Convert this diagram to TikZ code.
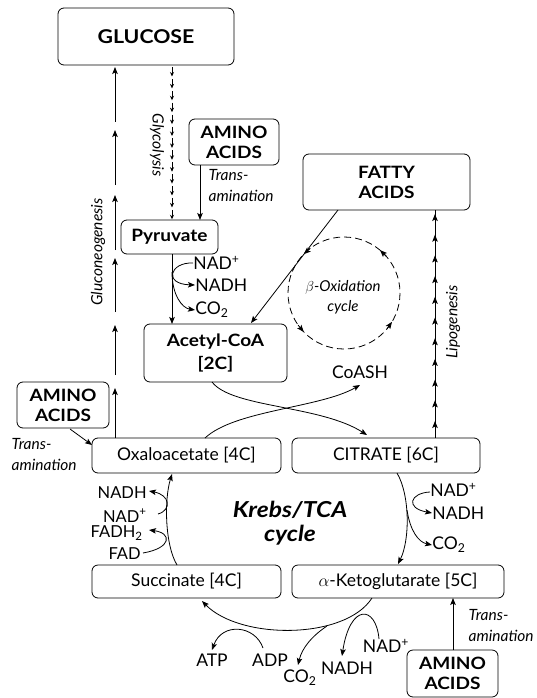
\documentclass[tikz,border=0pt]{standalone}
\usepackage{fontspec}
\setmainfont{Lato}
\newfontfamily\boxfont{Lato}[FakeStretch=1.12]
\usetikzlibrary{arrows.meta,calc}
\begin{document}
\begin{tikzpicture}[x=1pt,y=-1pt, line width=0.8pt,
  >={Stealth[length=7pt,width=5.5pt,inset=1.5pt]},
  box/.style={draw, rounded corners=6pt, inner sep=0pt, align=center},
  bigbold/.style={font=\fontsize{19}{22}\selectfont\boxfont\bfseries},
  boldlab/.style={font=\fontsize{17}{20}\selectfont\boxfont\bfseries},
  midlab/.style={font=\fontsize{17.5}{20}\selectfont},
  itlab/.style={font=\fontsize{15.5}{21}\selectfont\itshape},
  chem/.style={font=\fontsize{17.5}{20}\selectfont, inner sep=0pt},
  chemL/.style={font=\fontsize{16.5}{19}\selectfont, inner sep=0pt, anchor=base east},
  smallarr/.style={-{Stealth[length=4.5pt,width=4pt]}},
  liparr/.style={-{Stealth[length=7pt,width=5.5pt,inset=1.5pt]}},
]
\useasboundingbox (0,0) rectangle (536,698);

% boxes
\node[box, bigbold, minimum width=176pt, minimum height=57pt] (glucose) at (146,36.5) {GLUCOSE};
\node[box, boldlab, minimum width=90pt, minimum height=46pt] (aminoT) at (234,142) {AMINO\\ACIDS};
\node[box, boldlab, minimum width=97pt, minimum height=34pt] (pyr) at (169.5,237) {Pyruvate};
\node[box, boldlab, minimum width=167pt, minimum height=56pt] (fatty) at (386.5,182) {FATTY\\ACIDS};
\node[box, font=\fontsize{17}{23}\selectfont\boxfont\bfseries, minimum width=143pt, minimum height=58pt] (acetyl) at (215.5,353) {Acetyl-CoA\\{[2C]}};
\node[box, boldlab, minimum width=92pt, minimum height=46pt] (aminoL) at (63,405) {AMINO\\ACIDS};
\node[box, midlab, minimum width=189pt, minimum height=35pt] (oxalo) at (186.5,455.5) {Oxaloacetate [4C]};
\node[box, midlab, minimum width=188pt, minimum height=35pt] (citrate) at (386,455.5) {CITRATE [6C]};
\node[box, midlab, minimum width=189pt, minimum height=33pt] (succ) at (186.5,581.5) {Succinate [4C]};
\node[box, midlab, minimum width=212pt, minimum height=33pt] (akg) at (398,581.5) {$\alpha$-Ketoglutarate [5C]};
\node[box, boldlab, minimum width=91pt, minimum height=47pt] (aminoB) at (452.5,673.5) {AMINO\\ACIDS};

% gluconeogenesis
\foreach \a/\b in {438/388, 375/325, 312/258, 250/195, 185/130, 122/67}
  \draw[->] (115,\a) -- (115,\b);
\node[itlab, rotate=90] (glulab) at (98,252) {Gluconeogenesis};

% glycolysis
\foreach \i in {0,...,12}
  \draw[smallarr] (172,{67+\i*11.9}) -- (172,{67+\i*11.9+9.5});
\node[itlab, rotate=-90] (glylab) at (157,145) {Glycolysis};

% transamination top
\draw[->] (200,165) -- (200,220);
\node[itlab, align=left, anchor=west] (tT) at (205,186) {Trans-\\amination};

% pyruvate -> acetyl
\draw[->] (172,254) -- (172,324);
\node[chem, anchor=west] (nadT) at (193,263) {NAD\textsuperscript{+}};
\node[chem, anchor=west] (nadhT) at (195,285) {NADH};
\node[chem, anchor=west] (co2T) at (195,310) {CO\textsubscript{2}};
\draw[->] (nadT.west) .. controls (170,262) and (163,284) .. (nadhT.west);
\draw[->] (172,272) .. controls (172,295) and (182,308) .. (co2T.west);

% fatty -> acetyl
\draw[->] (338,210) -- (251,323);

% beta oxidation
\draw[dash pattern=on 7pt off 4pt] (344,293) circle[radius=56];
\foreach \a in {50,136,224,329}
  \draw[-{Stealth[length=7pt,width=5.5pt,inset=1.5pt]}] ({344+56*cos(\a-9)},{293-56*sin(\a-9)}) -- ({344+56*cos(\a)},{293-56*sin(\a)});
\node[align=center, font=\fontsize{15}{20}\selectfont\itshape] (beta) at (343,297) {$\beta$-Oxidation\\cycle};

% lipogenesis
\draw (435,438) -- (435,210);
\foreach \i in {0,...,10}
  \draw[liparr] (435,{214+\i*20.7+7}) -- (435,{214+\i*20.7});
\node[itlab, rotate=90] (liplab) at (453,322) {Lipogenesis};

% CoASH & crossing
\node[midlab] (coash) at (360,372) {CoASH};
\draw[->] (212,382) .. controls (232,408) and (320,405) .. (367,435);
\draw[->] (205,438) .. controls (235,410) and (320,408) .. (360,385);

% left amino
\draw[->] (70,429) -- (92,445);
\node[itlab, align=left, anchor=west] (tL) at (8,455) {Trans-\\amination};

% Krebs cycle
\node[font=\fontsize{22}{24}\selectfont\boxfont\bfseries\itshape, align=center] (krebs) at (290,523) {Krebs/TCA\\cycle};
\draw[->] (177,565) .. controls (165,545) and (164,500) .. (172,474);
\draw[->] (397,473) .. controls (410,495) and (410,540) .. (398,564);
\draw[->] (372,598) .. controls (345,640) and (240,640) .. (202,601);

% left side cofactors
\node[chemL] (nadhL) at (147,498) {NADH};
\node[chemL] (nadL) at (147,522) {NAD\textsuperscript{+}};
\node[chemL] (fadh) at (143,537.5) {FADH\textsubscript{2}};
\node[chemL] (fad) at (141,559) {FAD};
\draw[->] (158,514) .. controls (172,510) and (170,495) .. (149,491);
\draw[->] (143,553) .. controls (172,548) and (172,533) .. (149,530);

% right side cofactors
\node[chem, anchor=west] (nadR) at (430,490) {NAD\textsuperscript{+}};
\node[chem, anchor=west] (nadhR) at (432,513) {NADH};
\node[chem, anchor=west] (co2R) at (432,545) {CO\textsubscript{2}};
\draw[->] (430,492) .. controls (410,493) and (405,508) .. (nadhR.west);
\draw[->] (407,510) .. controls (410,530) and (418,542) .. (co2R.west);

% bottom cofactors
\node[chem] (atp) at (212,660) {ATP};
\node[chem] (adp) at (270,660) {ADP};
\node[chem] (co2B) at (300,678) {CO\textsubscript{2}};
\node[chem] (nadhB) at (347,668) {NADH};
\node[chem] (nadB) at (386,646) {NAD\textsuperscript{+}};
\draw[->] (263,648) .. controls (255,625) and (222,622) .. (212,650);
\draw[->] (327,626) .. controls (312,636) and (302,648) .. (298,665);
\draw[->] (379,639) .. controls (376,605) and (350,603) .. (342,656);

% bottom amino
\draw[->] (453,650) -- (453,598);
\node[itlab, align=left, anchor=west] (tB) at (465,626) {Trans-\\amination};
\end{tikzpicture}
\end{document}
